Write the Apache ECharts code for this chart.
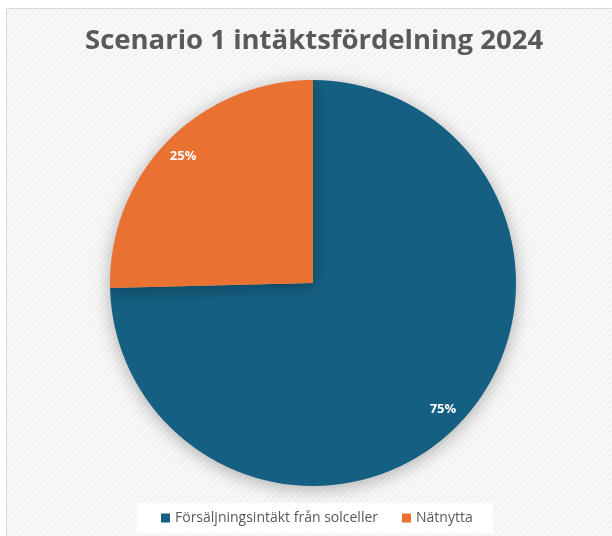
<!DOCTYPE html>
<html>
<head>
<meta charset="utf-8">
<script src="https://cdn.jsdelivr.net/npm/echarts@6/dist/echarts.min.js"></script>
<style>
  html, body { margin: 0; padding: 0; background: #fff; }
  #chart { width: 612px; height: 536px; }
</style>
</head>
<body>
<div id="chart"></div>
<script>
const categories = ['Försäljningsintäkt från solceller', 'Nätnytta'];
const shares = [74.6, 25.4];
const colors = ['#156082', '#E97132'];

// diagonal stripe pattern for the chart area background
function makeStripes() {
    const c = document.createElement('canvas');
    c.width = 6; c.height = 6;
    const ctx = c.getContext('2d');
    ctx.fillStyle = '#f3f3f3';
    ctx.fillRect(0, 0, 6, 6);
    ctx.strokeStyle = '#fbfbfb';
    ctx.lineWidth = 1.5;
    ctx.beginPath();
    ctx.moveTo(-1, 7); ctx.lineTo(7, -1);
    ctx.moveTo(-1, 1); ctx.lineTo(1, -1);
    ctx.moveTo(5, 7); ctx.lineTo(7, 5);
    ctx.stroke();
    return c;
}

const pieData = categories.map((name, i) => ({
    name: name,
    value: shares[i],
    itemStyle: { color: colors[i] }
}));

const chart = echarts.init(document.getElementById('chart'));
const option = {
    animation: false,
    backgroundColor: '#fff',
    graphic: [{
        type: 'rect',
        z: -10,
        silent: true,
        shape: { x: 6.5, y: 8.5, width: 620, height: 540 },
        style: {
            fill: { image: makeStripes(), repeat: 'repeat' },
            stroke: '#d9d9d9',
            lineWidth: 1
        }
    }],
    title: {
        text: 'Scenario 1 intäktsfördelning 2024',
        left: 80,
        top: 22,
        textStyle: {
            fontFamily: 'Open Sans',
            fontWeight: 'bold',
            fontSize: 27.5,
            color: '#595959'
        }
    },
    legend: {
        bottom: 3,
        left: 137,
        backgroundColor: '#fff',
        padding: [8, 20, 8, 24],
        itemWidth: 9,
        itemHeight: 9,
        itemGap: 24,
        icon: 'rect',
        textStyle: {
            fontFamily: 'Open Sans',
            fontSize: 14,
            color: '#595959'
        },
        data: categories
    },
    series: [
        {
            type: 'pie',
            center: [313, 283],
            radius: [0, 203],
            startAngle: 90,
            clockwise: true,
            silent: true,
            itemStyle: {
                shadowBlur: 18,
                shadowColor: 'rgba(0,0,0,0.3)',
                shadowOffsetY: 3
            },
            label: { show: false },
            labelLine: { show: false },
            data: pieData
        },
        {
            // transparent ring only to place the percentage labels near the rim
            type: 'pie',
            center: [313, 283],
            radius: [154, 203],
            startAngle: 90,
            clockwise: true,
            silent: true,
            legendHoverLink: false,
            itemStyle: { color: 'rgba(0,0,0,0)' },
            label: {
                show: true,
                position: 'inside',
                formatter: p => Math.round(p.percent) + '%',
                fontFamily: 'Open Sans',
                fontWeight: 'bold',
                fontSize: 13,
                color: '#fff'
            },
            labelLine: { show: false },
            data: categories.map((name, i) => ({ name: name, value: shares[i] }))
        }
    ]
};
chart.setOption(option);
</script>
</body>
</html>
